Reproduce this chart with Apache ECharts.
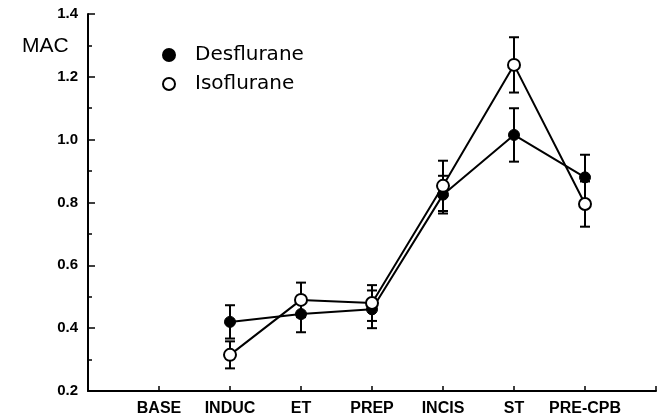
<!DOCTYPE html>
<html>
<head>
<meta charset="utf-8">
<script src="https://cdn.jsdelivr.net/npm/echarts@6/dist/echarts.min.js"></script>
<style>
  html, body { margin: 0; padding: 0; background: #fff; }
  #chart-container { width: 665px; height: 419px; }
</style>
</head>
<body>
<div id="chart-container"></div>
<script>
const stages = ["BASE", "INDUC", "ET", "PREP", "INCIS", "ST", "PRE-CPB"];
const yTicks = [0.2, 0.4, 0.6, 0.8, 1.0, 1.2, 1.4];
// mean MAC and error (half bar) per stage; BASE has no values
const desMean = [null, 0.42, 0.445, 0.46, 0.825, 1.015, 0.88];
const desErr = [null, 0.053, 0.058, 0.06, 0.06, 0.085, 0.072];
const isoMean = [null, 0.315, 0.49, 0.48, 0.853, 1.238, 0.795];
const isoErr = [null, 0.043, 0.055, 0.057, 0.08, 0.088, 0.072];

(() => {
  var dom = document.getElementById("chart-container");
  var chart = echarts.init(dom, null, { renderer: "canvas" });

  const points = (mean) =>
    mean.map((v, i) => [i + 1, v]).filter((d) => d[1] !== null);
  const bars = (mean, err) =>
    mean.map((v, i) => (v === null ? null : [i + 1, v - err[i], v + err[i]]))
      .filter((d) => d !== null);

  const errorBar = (name, data) => ({
    name: name,
    type: "custom",
    silent: true,
    z: 1,
    data: data,
    renderItem: (params, api) => {
      const top = api.coord([api.value(0), api.value(2)]);
      const bot = api.coord([api.value(0), api.value(1)]);
      const w = 5;
      const style = { stroke: "#000", lineWidth: 2 };
      return {
        type: "group",
        children: [
          { type: "line", shape: { x1: top[0], y1: top[1], x2: bot[0], y2: bot[1] }, style: style },
          { type: "line", shape: { x1: top[0] - w, y1: top[1], x2: top[0] + w, y2: top[1] }, style: style },
          { type: "line", shape: { x1: bot[0] - w, y1: bot[1], x2: bot[0] + w, y2: bot[1] }, style: style },
        ],
      };
    },
  });

  const axisFont = {
    color: "#000",
    fontFamily: "Liberation Sans",
    fontWeight: "bold",
  };

  const option = {
    animation: false,
    title: {
      text: "MAC",
      left: 17,
      top: 31,
      textStyle: { fontFamily: "Liberation Sans", fontWeight: "normal", fontSize: 21, color: "#000" },
    },
    legend: {
      orient: "vertical",
      left: 157,
      top: 40,
      itemWidth: 12,
      itemHeight: 12,
      itemGap: 9,
      icon: "circle",
      data: ["Desflurane", "Isoflurane"],
      textStyle: {
        fontFamily: "DejaVu Sans",
        fontSize: 20,
        lineHeight: 20,
        color: "#000",
        padding: [0, 0, 0, 15],
      },
    },
    grid: { left: 88, right: 9, top: 14, bottom: 28 },
    xAxis: {
      type: "value",
      min: 0,
      max: 8,
      interval: 1,
      axisLine: { lineStyle: { color: "#000", width: 2 } },
      axisTick: { inside: true, length: 5, lineStyle: { color: "#000", width: 1.5 } },
      axisLabel: {
        ...axisFont,
        fontSize: 16,
        margin: 10,
        formatter: (v) => stages[v - 1] || "",
      },
      splitLine: { show: false },
    },
    yAxis: {
      type: "value",
      min: yTicks[0],
      max: yTicks[yTicks.length - 1],
      interval: 0.2,
      axisLine: { show: true, lineStyle: { color: "#000", width: 2 } },
      axisTick: { inside: true, length: 7, lineStyle: { color: "#000", width: 1.5 } },
      minorTick: { show: true, splitNumber: 2, length: 4, lineStyle: { color: "#000", width: 1.5 } },
      axisLabel: {
        ...axisFont,
        fontSize: 15,
        margin: 10,
        formatter: (v) => v.toFixed(1),
      },
      splitLine: { show: false },
    },
    series: [
      errorBar("desErr", bars(desMean, desErr)),
      errorBar("isoErr", bars(isoMean, isoErr)),
      {
        name: "Desflurane",
        type: "line",
        z: 3,
        data: points(desMean),
        symbol: "circle",
        symbolSize: 11,
        lineStyle: { color: "#000", width: 2 },
        itemStyle: { color: "#000", borderColor: "#000", borderWidth: 1 },
      },
      {
        name: "Isoflurane",
        type: "line",
        z: 4,
        data: points(isoMean),
        symbol: "circle",
        symbolSize: 12,
        lineStyle: { color: "#000", width: 2 },
        itemStyle: { color: "#fff", borderColor: "#000", borderWidth: 2 },
      },
    ],
  };
  chart.setOption(option);
  window.addEventListener("resize", chart.resize);
})();
</script>
</body>
</html>
